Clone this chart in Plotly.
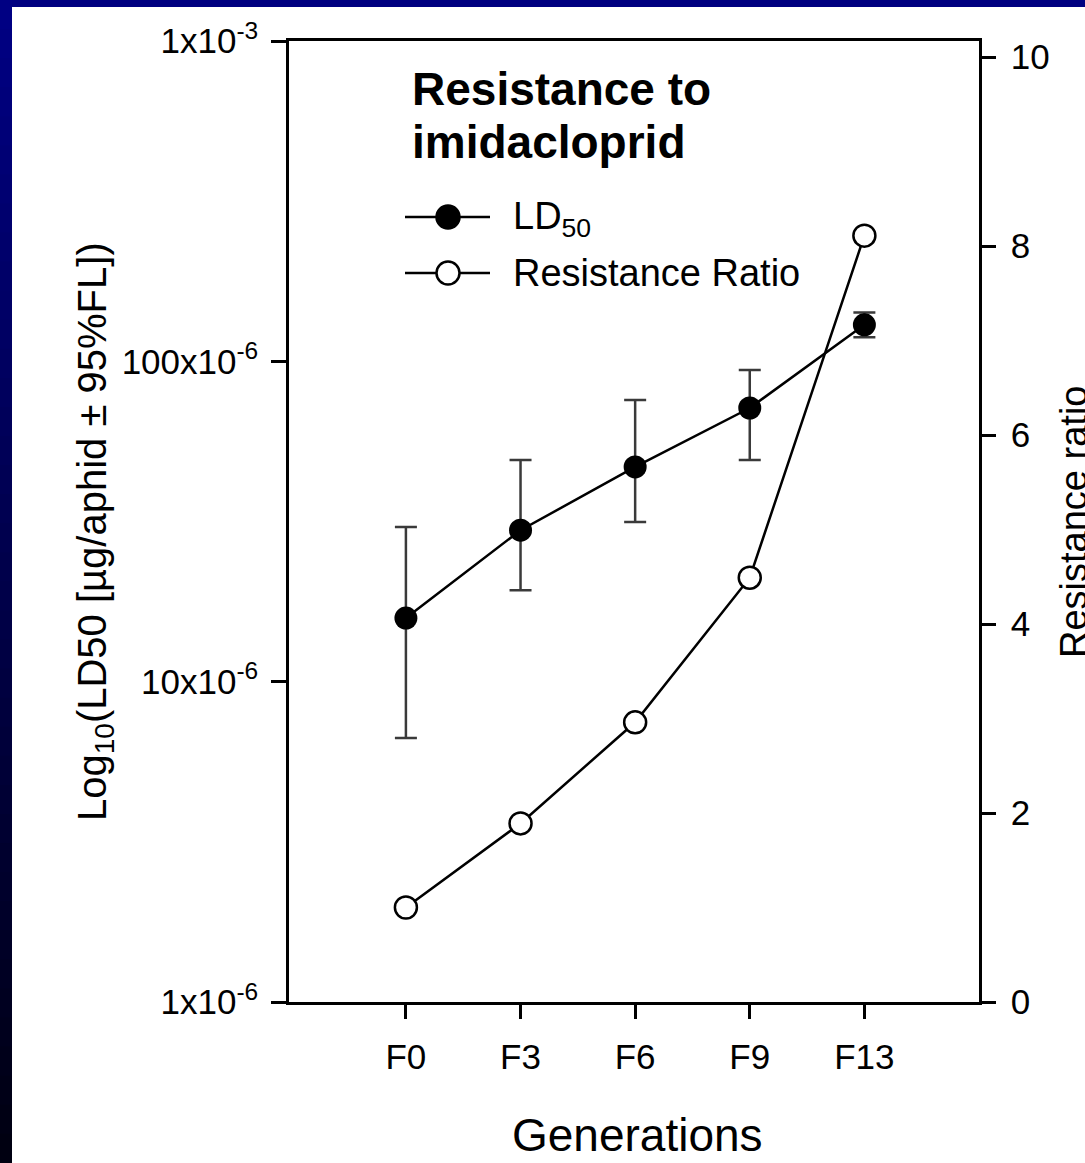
import plotly.graph_objects as go

# ---------------- data ----------------
generations = ["F0", "F3", "F6", "F9", "F13"]
ld50 = [1.58e-5, 2.97e-5, 4.68e-5, 7.15e-5, 1.30e-4]
ld50_upper = [3.04e-5, 4.92e-5, 7.57e-5, 9.4e-5, 1.42e-4]
ld50_lower = [6.67e-6, 1.93e-5, 3.15e-5, 4.92e-5, 1.19e-4]
resistance_ratio = [1.0, 1.89, 2.96, 4.49, 8.11]

left_tickvals = [1e-6, 1e-5, 1e-4, 1e-3]
left_ticktext = ["1x10<sup>-6</sup>", "10x10<sup>-6</sup>", "100x10<sup>-6</sup>", "1x10<sup>-3</sup>"]
right_tickvals = [0, 2, 4, 6, 8, 10]

# ---------------- geometry ----------------
W, H = 1085, 1163
PL, PR, PT, PB = 289, 979, 41, 1002   # plot area in pixels


def px(x):
    return (x - PL) / (PR - PL)


def py(y):
    return (PB - y) / (PB - PT)


FONT = "Liberation Sans, Arial, sans-serif"

err_plus = [u - v for u, v in zip(ld50_upper, ld50)]
err_minus = [v - l for v, l in zip(ld50, ld50_lower)]

fig = go.Figure()

fig.add_trace(go.Scatter(
    x=generations, y=ld50, mode="lines+markers", name="LD50",
    line=dict(color="black", width=2.5),
    marker=dict(symbol="circle", size=23, color="black"),
    error_y=dict(type="data", symmetric=False, array=err_plus, arrayminus=err_minus,
                 color="#3a3a3a", thickness=2.5, width=11),
    showlegend=False,
))

fig.add_trace(go.Scatter(
    x=generations, y=resistance_ratio, mode="lines+markers", name="Resistance Ratio",
    yaxis="y2",
    line=dict(color="black", width=2.5),
    marker=dict(symbol="circle", size=22, color="white", line=dict(color="black", width=2.5)),
    showlegend=False,
))

shapes = []
# navy frame: top strip and left gradient strip
shapes.append(dict(type="rect", xref="paper", yref="paper",
                   x0=px(0), x1=px(W), y0=py(7), y1=py(0),
                   fillcolor="#000080", line=dict(width=0), layer="above"))
nb = 40
for i in range(nb):
    y0 = H * i / nb
    y1 = H * (i + 1) / nb + 1
    t = (i + 0.5) / nb
    b = int(round(0x84 * (1 - t) + 0x10 * t))
    shapes.append(dict(type="rect", xref="paper", yref="paper",
                       x0=px(0), x1=px(12), y0=py(y1), y1=py(y0),
                       fillcolor="rgb(0,0,%d)" % b, line=dict(width=0), layer="above"))

# manual legend
leg_rows = [(217, "black"), (273, "white")]
for yc, fill in leg_rows:
    shapes.append(dict(type="line", xref="paper", yref="paper",
                       x0=px(405), x1=px(490), y0=py(yc), y1=py(yc),
                       line=dict(color="black", width=2.5)))
    r = 11.5
    shapes.append(dict(type="circle", xref="paper", yref="paper",
                       x0=px(448 - r), x1=px(448 + r), y0=py(yc + r), y1=py(yc - r),
                       fillcolor=fill, line=dict(color="black", width=2.5)))

annotations = [
    dict(text="<b>Resistance to</b>", x=px(410), y=py(89), xref="paper", yref="paper",
         xanchor="left", yanchor="middle", showarrow=False,
         font=dict(family=FONT, size=46, color="black")),
    dict(text="<b>imidacloprid</b>", x=px(410), y=py(142), xref="paper", yref="paper",
         xanchor="left", yanchor="middle", showarrow=False,
         font=dict(family=FONT, size=46, color="black")),
    dict(text="LD<sub>50</sub>", x=px(511), y=py(219), xref="paper", yref="paper",
         xanchor="left", yanchor="middle", showarrow=False,
         font=dict(family=FONT, size=38, color="black")),
    dict(text="Resistance Ratio", x=px(511), y=py(273), xref="paper", yref="paper",
         xanchor="left", yanchor="middle", showarrow=False,
         font=dict(family=FONT, size=38, color="black")),
    dict(text="Generations", x=px(637), y=py(1135), xref="paper", yref="paper",
         xanchor="center", yanchor="middle", showarrow=False,
         font=dict(family=FONT, size=46, color="black")),
    dict(text="Log<sub>10</sub>(LD50 [µg/aphid ± 95%FL])", x=px(95), y=py(532),
         xref="paper", yref="paper", xanchor="center", yanchor="middle",
         textangle=-90, showarrow=False,
         font=dict(family=FONT, size=40, color="black")),
    dict(text="Resistance ratio", x=px(1074), y=py(522),
         xref="paper", yref="paper", xanchor="center", yanchor="middle",
         textangle=-90, showarrow=False,
         font=dict(family=FONT, size=38, color="black")),
]

fig.update_layout(
    width=W, height=H, autosize=False,
    margin=dict(l=PL, r=W - PR, t=PT, b=H - PB, pad=0),
    paper_bgcolor="white", plot_bgcolor="white",
    font=dict(family=FONT, color="black"),
    showlegend=False,
    xaxis=dict(type="category", range=[-1.02, 5.0], showline=True, linecolor="black",
               linewidth=2.5, mirror=True, ticks="outside", ticklen=14, tickwidth=2.5,
               tickcolor="black", showgrid=False, zeroline=False,
               tickfont=dict(family=FONT, size=35, color="black"), ticklabelstandoff=8),
    yaxis=dict(type="log", range=[-6, -3], tickvals=left_tickvals, ticktext=left_ticktext,
               showline=True, linecolor="black", linewidth=2.5, ticks="outside",
               ticklen=15, tickwidth=2.5, tickcolor="black", showgrid=False,
               zeroline=False, tickfont=dict(family=FONT, size=35, color="black"),
               ticklabelstandoff=6),
    yaxis2=dict(overlaying="y", side="right", range=[0, 10.17], tickvals=right_tickvals,
                showline=True, linecolor="black", linewidth=2.5, ticks="outside",
                ticklen=14, tickwidth=2.5, tickcolor="black", showgrid=False,
                zeroline=False, tickfont=dict(family=FONT, size=35, color="black"),
                ticklabelstandoff=8),
    shapes=shapes,
    annotations=annotations,
)

fig.write_html("out.html")
